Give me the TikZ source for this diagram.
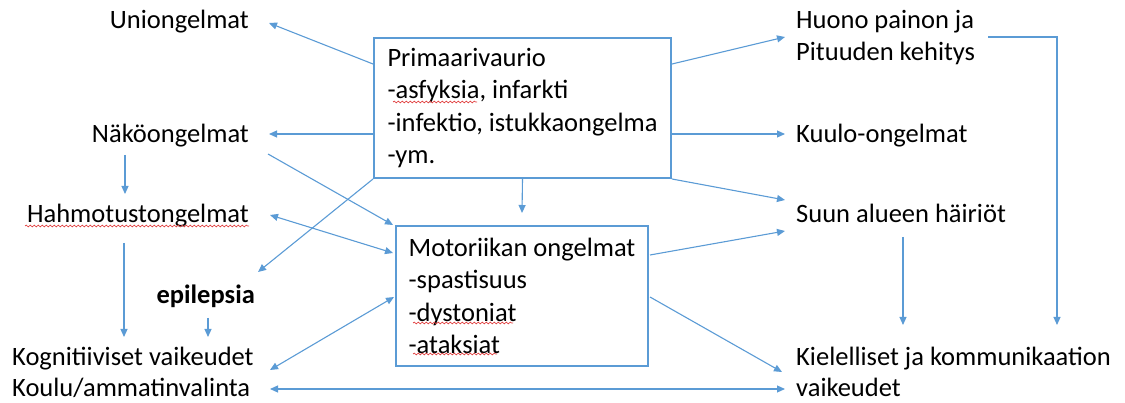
\documentclass[tikz,border=0pt]{standalone}
\usepackage{fontspec}
\setmainfont{Carlito}
\usetikzlibrary{arrows.meta,decorations.pathmorphing}
\definecolor{offblue}{HTML}{5B9BD5}
\definecolor{spellred}{HTML}{E04040}
\tikzset{
  txt/.style={inner sep=0pt, font=\fontsize{26.5}{32.3}\selectfont, text=black},
  boldtxt/.style={txt, font=\fontsize{26.5}{32.3}\selectfont\bfseries},
  boxnode/.style={draw=offblue, line width=2pt, align=left, inner sep=0pt,
    font=\fontsize{26.5}{32.3}\selectfont, anchor=north west},
  arr/.style={draw=offblue, line width=1.1pt, -{Triangle[length=8pt,width=7pt]}},
  darr/.style={draw=offblue, line width=1.1pt, {Triangle[length=8pt,width=7pt]}-{Triangle[length=8pt,width=7pt]}},
  squiggle/.style={draw=spellred, line width=0.7pt, decorate,
    decoration={snake, segment length=4pt, amplitude=0.9pt}}
}
\begin{document}
\begin{tikzpicture}[x=1pt,y=-1pt]
\useasboundingbox (0,0) rectangle (1125,403);

% boxes
\node[boxnode, minimum width=297pt, minimum height=140pt] (prim) at (373,37)
  {Primaarivaurio\\-asfyksia, infarkti\\-infektio, istukkaongelma\\-ym.};
\node[boxnode, minimum width=252pt, minimum height=140pt] (mot) at (395,225)
  {Motoriikan ongelmat\\-spastisuus\\-dystoniat\\-ataksiat};

% left texts
\node[txt, anchor=base east] (union) at (249,29) {Uniongelmat};
\node[txt, anchor=base east] (nako) at (249,143) {Näköongelmat};
\node[txt, anchor=base east] (hahmo) at (249,223) {Hahmotustongelmat};
\node[boldtxt, anchor=base east] (epi) at (255,304) {epilepsia};
\node[txt, anchor=base west] (kog1) at (12,366) {Kognitiiviset vaikeudet};
\node[txt, anchor=base west] (kog2) at (12,396) {Koulu/ammatinvalinta};

% right texts
\node[txt, anchor=base west] (huono1) at (796,29) {Huono painon ja};
\node[txt, anchor=base west] (huono2) at (796,61) {Pituuden kehitys};
\node[txt, anchor=base west] (kuulo) at (796,143) {Kuulo-ongelmat};
\node[txt, anchor=base west] (suun) at (796,223) {Suun alueen häiriöt};
\node[txt, anchor=base west] (kiel1) at (796,366) {Kielelliset ja kommunikaation};
\node[txt, anchor=base west] (kiel2) at (796,396) {vaikeudet};

% spell-check underlines
\draw[squiggle] ([shift={(20,65)}]prim.north west) -- ([shift={(104,65)}]prim.north west);
\draw[squiggle] ([shift={(-224,3)}]hahmo.base east) -- ([shift={(0,3)}]hahmo.base east);
\draw[squiggle] ([shift={(18,98)}]mot.north west) -- ([shift={(118,98)}]mot.north west);
\draw[squiggle] ([shift={(18,129)}]mot.north west) -- ([shift={(102,129)}]mot.north west);

% connectors from Primaarivaurio
\draw[arr] ([shift={(0,27)}]prim.north west) -- ([shift={(20,-6)}]union.base east);
\draw[arr] ([shift={(0,97)}]prim.north west) -- ([shift={(20,-9)}]nako.base east);
\draw[arr] (prim.south west) -- ([shift={(3,-32)}]epi.base east);
\draw[arr] (prim.south) -- ([shift={(0,-12)}]mot.north);
\draw[arr] ([shift={(0,27)}]prim.north east) -- ([shift={(-11,8)}]huono1.base west);
\draw[arr] ([shift={(0,97)}]prim.north east) -- ([shift={(-11,-9)}]kuulo.base west);
\draw[arr] (prim.south east) -- ([shift={(-11,-23)}]suun.base west);

% left side
\draw[arr] ([shift={(19,11)}]nako.base east) -- ([shift={(-2,0)}]mot.north west);
\draw[arr] ([shift={(-124,12)}]nako.base east) -- ([shift={(-124,-29)}]hahmo.base east);
\draw[arr] ([shift={(-125,20)}]hahmo.base east) -- ([shift={(112,-29)}]kog1.base west);
\draw[arr] ([shift={(-47,14)}]epi.base east) -- ([shift={(196,-29)}]kog1.base west);
\draw[darr] ([shift={(21,-8)}]hahmo.base east) -- ([shift={(-2,28)}]mot.north west);
\draw[darr] ([shift={(258,4)}]kog1.base west) -- ([shift={(-1,72)}]mot.north west);
\draw[darr] ([shift={(258,-7)}]kog2.base west) -- ([shift={(-11,-7)}]kiel2.base west);

% right side
\draw[arr] ([shift={(1,30)}]mot.north east) -- ([shift={(-11,8)}]suun.base west);
\draw[arr] ([shift={(1,72)}]mot.north east) -- ([shift={(-14,6)}]kiel1.base west);
\draw[arr] ([shift={(107,14)}]suun.base west) -- ([shift={(107,-41)}]kiel1.base west);
\draw[arr] ([shift={(192,8)}]huono1.base west) -| ([shift={(261,-41)}]kiel1.base west);
\end{tikzpicture}
\end{document}
